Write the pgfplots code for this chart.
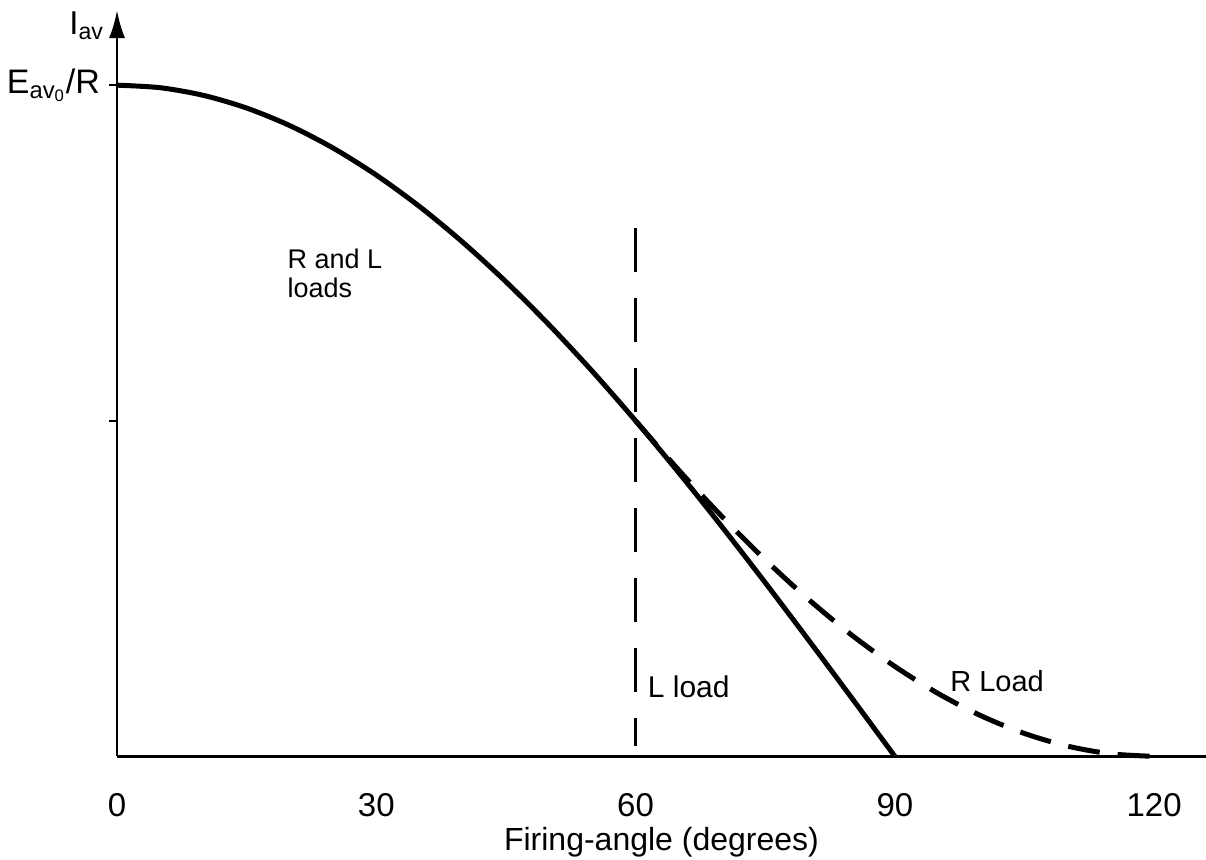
\documentclass[border=0pt]{standalone}
\usepackage{fontspec}
\setmainfont{Liberation Sans}
\usepackage{pgfplots}
\pgfplotsset{compat=1.18}
\usetikzlibrary{arrows.meta}
\begin{document}
\begin{tikzpicture}
\begin{axis}[
  x=4.32pt, y=335.5pt,
  xmin=0, xmax=126, ymin=0, ymax=1.112,
  axis lines=left,
  axis line style={line width=1.4pt,-},
  y axis line style={-{Latex[length=14pt,width=8pt]}},
  clip=false,
  xtick={0,30,60,90,120},
  ytick={0.5,1},
  yticklabels={,E\textsubscript{av\textsubscript{0}}/R},
  tick align=outside,
  major tick length=4pt,
  tick style={line width=1.2pt,black},
  xtick style={draw=none},
  /pgf/number format/assume math mode=true,
  tick label style={font=\fontsize{16.5}{18}\selectfont},
  xticklabel style={yshift=-11pt},
  yticklabel style={xshift=-1pt, font=\fontsize{17}{19}\selectfont},
]
\addplot[black, line width=2.5pt, smooth] coordinates {
(0,1.0000) (5,0.9962) (10,0.9848) (15,0.9659) (20,0.9397) (25,0.9063)
(30,0.8660) (35,0.8192) (40,0.7660) (45,0.7071) (50,0.6428) (55,0.5736)
(60,0.5000) (65,0.4226) (70,0.3420) (75,0.2588) (80,0.1736) (85,0.0872) (90,0)
};
\addplot[black, line width=2.5pt, smooth, dash pattern=on 16pt off 9pt] coordinates {
(60,0.5000) (65,0.4264) (70,0.3572) (75,0.2929) (80,0.2340) (85,0.1808)
(90,0.1340) (95,0.0937) (100,0.0603) (105,0.0341) (110,0.0152) (115,0.0038) (120,0)
};
\addplot[black, line width=1.5pt, dash pattern=on 22pt off 13pt] coordinates {
(60,0.787) (60,0.015)
};
\node[font=\fontsize{13.5}{13.5}\selectfont, align=left] at (axis cs:25.2,0.72) {R and L\\[1pt]loads};
\node[font=\fontsize{15}{17}\selectfont, anchor=west] at (axis cs:60.6,0.104) {L load};
\node[font=\fontsize{14.5}{17}\selectfont, anchor=west] at (axis cs:95.6,0.112) {R Load};
\node[font=\fontsize{16.5}{18}\selectfont, anchor=east] at (axis cs:-0.7,1.089) {I\textsubscript{av}};
\node[font=\fontsize{16}{18}\selectfont] at (axis cs:63,0) [yshift=-43pt] {Firing-angle (degrees)};
\coordinate (bl) at (rel axis cs:0,0);
\coordinate (tr) at (rel axis cs:1,1);
\end{axis}
\pgfresetboundingbox
\path[use as bounding box] ([shift={(-58.5pt,-51.5pt)}]bl) rectangle ([shift={(0pt,5pt)}]tr);
\end{tikzpicture}
\end{document}
